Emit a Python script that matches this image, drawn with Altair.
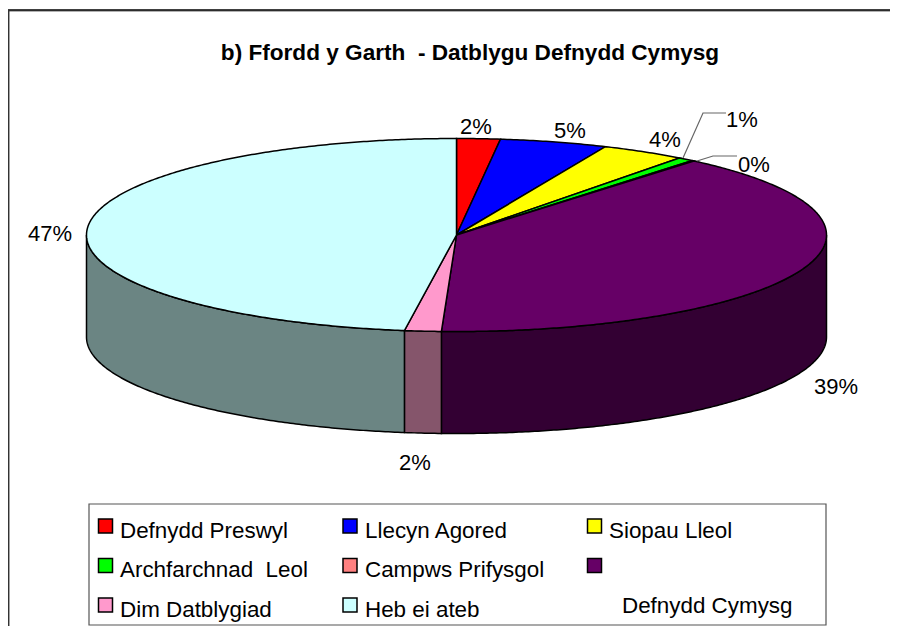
import math
import altair as alt

# --- data ---
CATEGORIES = ["Defnydd Preswyl", "Llecyn Agored", "Siopau Lleol", "Archfarchnad\u00a0 Leol",
              "Campws Prifysgol", "Defnydd Cymysg", "Dim Datblygiad", "Heb ei ateb"]
SHARES = [1.9, 4.7, 3.7, 0.7, 0.1, 39.6, 1.6, 47.8]
PCT_LABELS = ["2%", "5%", "4%", "1%", "0%", "39%", "2%", "47%"]
TITLE = "b) Ffordd y Garth\u00a0 - Datblygu Defnydd Cymysg"

# --- styling ---
TOP_COLORS = ["#FF0000", "#0000FF", "#FFFF00", "#00FF00", "#FF8080", "#660066", "#FF99CC", "#CCFFFF"]
WALL_COLORS = ["#800000", "#000080", "#808000", "#008000", "#804040", "#330033", "#85556B", "#6B8583"]

# --- layout (page pixels; the chart origin sits at the 8px page margin) ---
OX, OY = 8, 8
W, H = 882, 618
CX, CY, RX, RY, DEPTH = 456.5, 235, 370, 96.5, 102
LABEL_CENTRES = [(476, 127), (570, 131), (665, 140), (742, 120), (754, 165), (836, 387), (415, 463), (50, 234)]
LEGEND_SWATCHES = [(105.5, 526), (350, 526), (594.5, 526), (105.5, 565.5), (350, 565.5), (594.5, 565.5), (105.5, 605), (350, 605)]
LEGEND_TEXT = [(120, 538), (365, 538), (609, 538), (120, 577), (365, 577), (622, 613), (120, 617), (365, 617)]


def px(x, y):
    return [x - OX, y - OY]


def rim(theta_deg, drop=0.0):
    t = math.radians(theta_deg)
    return px(CX + RX * math.sin(t), CY - RY * math.cos(t) + drop)


def arc(a, b, drop=0.0):
    n = max(2, int(abs(b - a) * 2) + 1)
    return [rim(a + (b - a) * i / (n - 1), drop) for i in range(n)]


def poly(points, fill, stroke="#000000"):
    ring = points + [points[0]]
    return {"type": "Feature", "geometry": {"type": "Polygon", "coordinates": [ring]},
            "properties": {"fill": fill, "stroke": stroke}}


def line(points, stroke):
    return {"type": "Feature", "geometry": {"type": "LineString", "coordinates": points},
            "properties": {"stroke": stroke}}


def rect(x0, y0, x1, y1, fill, stroke):
    return poly([px(x0, y0), px(x1, y0), px(x1, y1), px(x0, y1)], fill, stroke)


# slice angles, clockwise from twelve o'clock
total = sum(SHARES)
angles = [0.0]
for s in SHARES:
    angles.append(angles[-1] + 360.0 * s / total)

walls, tops = [], []
for i in range(len(SHARES)):
    a, b = angles[i], angles[i + 1]
    lo, hi = max(a, 90.0), min(b, 270.0)
    if lo < hi:
        walls.append(poly(arc(lo, hi) + arc(hi, lo, DEPTH), WALL_COLORS[i]))
    tops.append(poly([px(CX, CY)] + arc(a, b), TOP_COLORS[i]))

boxes = [rect(89, 504, 826, 625, "#FFFFFF", "#555555")]
swatches = [rect(x - 7, y - 7, x + 7, y + 7, c, "#000000") for (x, y), c in zip(LEGEND_SWATCHES, TOP_COLORS)]
frame = [line([px(8.5, 11), px(898, 11)], "#999999"),
         line([px(8, 10), px(898, 10)], "#000000"),
         line([px(8.7, 10), px(8.7, 626)], "#333333")]
leaders = [line([px(683, 158), px(703, 113), px(726, 113)], "#666666"),
           line([px(697, 161), px(713, 156), px(737, 156)], "#666666")]

PROJ = dict(type="identity", scale=1, translate=[0, 0])


def shapes(features, width=1.5):
    return alt.Chart(alt.Data(values=features)).mark_geoshape(strokeWidth=width).encode(
        fill=alt.Fill("properties.fill:N", scale=None),
        stroke=alt.Stroke("properties.stroke:N", scale=None),
    ).project(**PROJ)


def lines(features, width=1.0):
    return alt.Chart(alt.Data(values=features)).mark_geoshape(filled=False, strokeWidth=width).encode(
        stroke=alt.Stroke("properties.stroke:N", scale=None),
    ).project(**PROJ)


def texts(rows, **mark):
    return alt.Chart(alt.Data(values=rows)).mark_text(font="Liberation Sans", color="#000000", **mark).encode(
        longitude="lon:Q", latitude="lat:Q", text="t:N",
    ).project(**PROJ)


pct_rows = [{"lon": x - OX, "lat": y - OY, "t": t} for (x, y), t in zip(LABEL_CENTRES, PCT_LABELS)]
legend_rows = [{"lon": x - OX, "lat": y - OY, "t": t} for (x, y), t in zip(LEGEND_TEXT, CATEGORIES)]
title_rows = [{"lon": 470 - OX, "lat": 53 - OY, "t": TITLE}]

chart = alt.layer(
    lines(frame, 1.5),
    shapes(boxes, 1.2),
    shapes(walls),
    shapes(tops),
    lines(leaders, 1.2),
    shapes(swatches),
    texts(pct_rows, fontSize=22, align="center", baseline="middle"),
    texts(legend_rows, fontSize=22.4, align="left", baseline="alphabetic"),
    texts(title_rows, fontSize=22.6, fontWeight="bold", align="center", baseline="middle"),
).properties(
    width=W, height=H, padding=0, autosize=alt.AutoSizeParams(type="none"),
).configure_view(stroke=None)

chart.save("out.html", embed_options={"renderer": "svg", "actions": False})
